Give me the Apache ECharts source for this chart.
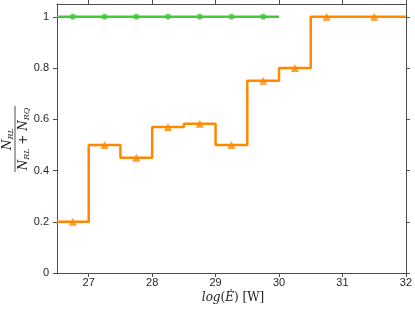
<!DOCTYPE html>
<html><head><meta charset="utf-8">
<script src="https://cdn.jsdelivr.net/npm/echarts@6/dist/echarts.min.js"></script>
<style>html,body{margin:0;padding:0;background:#fff}#c{width:415px;height:309px}</style>
</head><body><div id="c"></div>
<script>
// Bin edges (log Edot) and fractions
const orangeEdges = [26.5, 27, 27.5, 28, 28.5, 29, 29.5, 30, 30.5, 31, 32];
const orangeValues = [0.2, 0.5, 0.45, 0.57, 0.583, 0.5, 0.75, 0.8, 1.0, 1.0];
const greenEdges = [26.5, 27, 27.5, 28, 28.5, 29, 29.5, 30];
const greenValues = [1, 1, 1, 1, 1, 1, 1];
const xTicks = [27, 28, 29, 30, 31, 32];
const yTicks = [0, 0.2, 0.4, 0.6, 0.8, 1];

function stepLine(edges, vals) {
  const pts = [];
  for (let i = 0; i < vals.length; i++) {
    pts.push([edges[i], vals[i]]);
    pts.push([edges[i + 1], vals[i]]);
  }
  return pts;
}
function centers(edges, vals) {
  return vals.map((v, i) => [(edges[i] + edges[i + 1]) / 2, v]);
}

const ORANGE = '#FF8800';
const GREEN = '#44C93A';
const AX = '#4d4d4d';
const TXT = '#262626';
const font = '"Liberation Sans", Arial, sans-serif';
const serif = '"DejaVu Serif", "Liberation Serif", serif';

const chart = echarts.init(document.getElementById('c'), null, {renderer: 'canvas'});
const xCommon = {
  type: 'value', min: 26.5, max: 32,
  axisLine: {show: true, onZero: false, lineStyle: {color: AX, width: 1}},
  axisTick: {show: true, inside: false, length: 4, customValues: xTicks, lineStyle: {color: AX}},
  splitLine: {show: false}
};
const yCommon = {
  type: 'value', min: 0, max: 1.05,
  axisLine: {show: true, onZero: false, lineStyle: {color: AX, width: 1}},
  axisTick: {show: true, inside: false, length: 4, customValues: yTicks, lineStyle: {color: AX}},
  splitLine: {show: false}
};
chart.setOption({
  animation: false,
  grid: {left: 57, top: 4, right: 6, bottom: 36, containLabel: false},
  xAxis: [
    Object.assign({}, xCommon, {position: 'bottom',
      axisLabel: {show: true, margin: 4, color: TXT, fontSize: 11, fontFamily: font,
        customValues: xTicks, formatter: v => String(v)}}),
    Object.assign({}, xCommon, {position: 'top', axisLabel: {show: false}})
  ],
  yAxis: [
    Object.assign({}, yCommon, {position: 'left',
      axisLabel: {show: true, margin: 8, color: TXT, fontSize: 11, fontFamily: font,
        customValues: yTicks,
        formatter: v => (Math.abs(v) < 1e-9 ? '0' : (Math.abs(v - 1) < 1e-9 ? '1' : v.toFixed(1)))}}),
    Object.assign({}, yCommon, {position: 'right', axisLabel: {show: false}})
  ],
  series: [
    {type: 'line', data: stepLine(greenEdges, greenValues), showSymbol: false, symbol: 'none',
      lineStyle: {color: GREEN, width: 2.5}, z: 2},
    {type: 'scatter', data: centers(greenEdges, greenValues), symbol: 'circle', symbolSize: 6,
      itemStyle: {color: GREEN}, z: 3},
    {type: 'line', data: stepLine(orangeEdges, orangeValues), showSymbol: false, symbol: 'none',
      lineStyle: {color: ORANGE, width: 2.5}, z: 4},
    {type: 'scatter', data: centers(orangeEdges, orangeValues), symbol: 'triangle', symbolSize: 8,
      itemStyle: {color: ORANGE}, z: 5}
  ],
  graphic: [
    {type: 'text', x: 233, y: 298, style: {
        align: 'center', verticalAlign: 'middle',
        rich: {
          i: {fontFamily: serif, fontStyle: 'italic', fontSize: 12, fill: '#222'},
          r: {fontFamily: serif, fontSize: 12, fill: '#222'}
        },
        text: '{i|log}{r|(}{i|\u0116}{r|) [W]}'
      }},
    {type: 'group', x: 18, y: 139, rotation: Math.PI / 2, children: [
      {type: 'text', x: 0, y: -10, style: {
        rich: {
          n: {fontFamily: serif, fontStyle: 'italic', fontSize: 12, fill: '#222', lineHeight: 14},
          s: {fontFamily: serif, fontStyle: 'italic', fontSize: 8, fill: '#222', verticalAlign: 'bottom', lineHeight: 10}
        },
        text: '{n|N}{s|RL}', align: 'center', verticalAlign: 'middle'}},
      {type: 'line', shape: {x1: -33, y1: -3, x2: 33, y2: -3}, style: {stroke: '#222', lineWidth: 0.8}},
      {type: 'text', x: 0, y: 6, style: {
        rich: {
          n: {fontFamily: serif, fontStyle: 'italic', fontSize: 12, fill: '#222', lineHeight: 14},
          s: {fontFamily: serif, fontStyle: 'italic', fontSize: 8, fill: '#222', verticalAlign: 'bottom', lineHeight: 10},
          r: {fontFamily: serif, fontSize: 12, fill: '#222', lineHeight: 14}
        },
        text: '{n|N}{s|RL}{r| + }{n|N}{s|RQ}', align: 'center', verticalAlign: 'middle'}}
    ]}
  ]
});
</script></body></html>
